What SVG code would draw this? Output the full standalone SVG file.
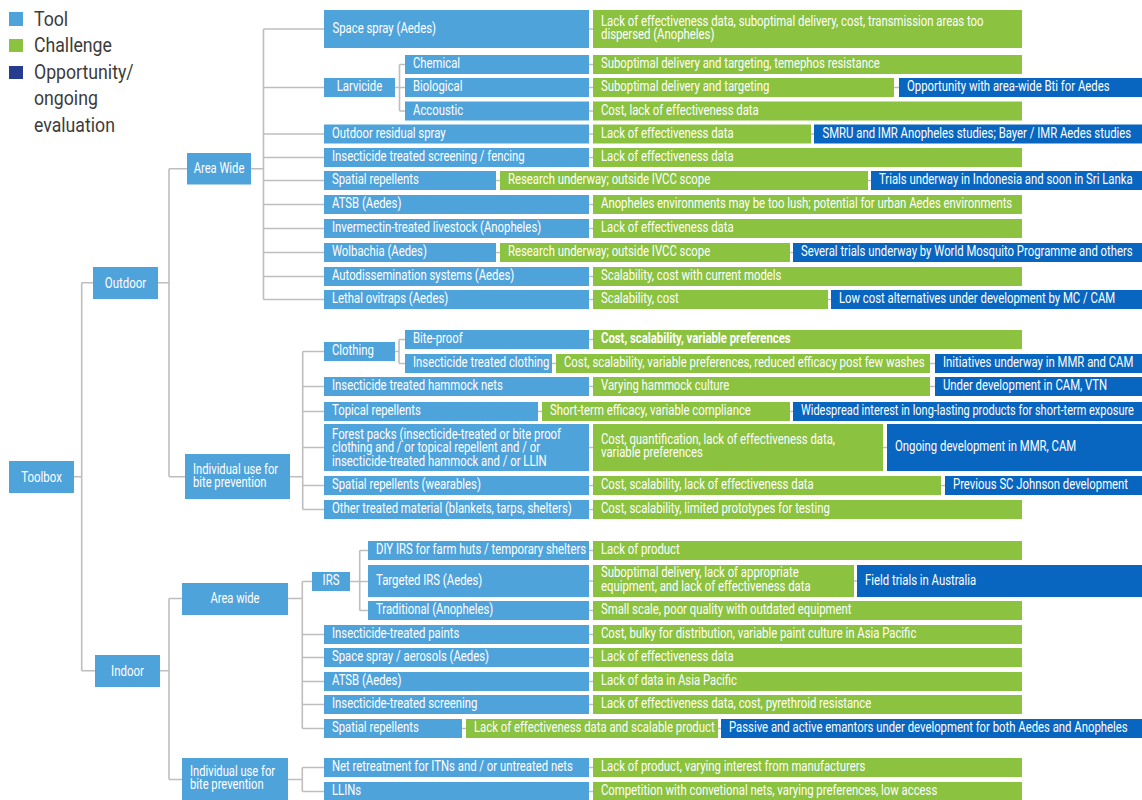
<svg xmlns="http://www.w3.org/2000/svg" width="1142" height="800" viewBox="0 0 1142 800">
<style>
.t{fill:#4FA3DB}
.c{fill:#8BC240}
.o{fill:#0866C0}
text{font-family:Roboto,"Liberation Sans",sans-serif;font-size:14px;fill:#FFFFFF}
.m{text-anchor:middle}
.n{font-size:15.5px}
.b{font-weight:bold}
.lg{font-size:20px;fill:#3C3C3C}
.conn{stroke:#BEBEBE;stroke-width:1.6;fill:none}
</style>
<rect width="1142" height="800" fill="#FFFFFF"/>
<g id="legend">
<rect x="9" y="12" width="14" height="14" class="t"/>
<rect x="9" y="39" width="14" height="13" class="c"/>
<rect x="9" y="66" width="14" height="13" fill="#253C8F"/>
<text class="lg" transform="scale(0.885,1)" x="38.42" y="26">Tool</text>
<text class="lg" transform="scale(0.885,1)" x="38.42" y="52.5">Challenge</text>
<text class="lg" transform="scale(0.885,1)" x="38.42" y="79">Opportunity/</text>
<text class="lg" transform="scale(0.885,1)" x="38.42" y="105.5">ongoing</text>
<text class="lg" transform="scale(0.885,1)" x="38.42" y="132">evaluation</text>
</g>
<g id="connectors" class="conn">
<path d="M74,476.7H81.7M81.7,282.7V670.7M81.7,282.7H93M81.7,670.7H95"/>
<path d="M158,282.7H169M169,168.7V476.7M169,168.7H187M169,476.7H185"/>
<path d="M251,168.7H263.5M263.5,29V299.5M263.5,29H324M263.5,87.5H324M263.5,134H324M263.5,157.5H324M263.5,180.5H324M263.5,204.5H324M263.5,228.5H324M263.5,252.5H324M263.5,276.5H324M263.5,299.5H324"/>
<path d="M395,87.5H405M399.5,64.5V111M399.5,64.5H405M399.5,111H405"/>
<path d="M290,476.7H302.7M302.7,351.5V509.5M302.7,351.5H324M302.7,386.5H324M302.7,411.5H324M302.7,447.5H324M302.7,485.5H324M302.7,509.5H324"/>
<path d="M395,351.5H399M399,339.5V363.5M399,339.5H405M399,363.5H405"/>
<path d="M160,670.7H169M169,598.5V779.5M169,598.5H182M169,779.5H182"/>
<path d="M288,598.5H302.3M302.3,581.5V728.5M302.3,581.5H312M302.3,634.5H324M302.3,657.5H324M302.3,681.5H324M302.3,704.5H324M302.3,728.5H324"/>
<path d="M350,581.5H368M359.7,550.5V610.5M359.7,550.5H368M359.7,610.5H368"/>
<path d="M288,779.5H302.3M302.3,767.5V791.5M302.3,767.5H324M302.3,791.5H324"/>
<path d="M589,29H593M589,64.5H593M589,87.5H593M894,87.5H899M589,111H593M589,134H593M811,134H814M589,157.5H593M496,180.5H500M868,180.5H871M589,204.5H593M589,228.5H593M496,252.5H500M790,252.5H793M589,276.5H593M589,299.5H593M828,299.5H831"/>
<path d="M589,339.5H593M552,363.5H556M930,363.5H935M589,386.5H593M930,386.5H935M538,411.5H542M790,411.5H793M589,447.5H593M883,447.5H887M589,485.5H593M941,485.5H945M589,509.5H593"/>
<path d="M589,550.5H593M589,581H593M854,581H857M589,610.5H593M589,634.5H593M589,657.5H593M589,681.5H593M589,704.5H593M462,728.5H466M718,728.5H721M589,767.5H593M589,791.5H593"/>
</g>
<g id="toolbox"><rect x="9" y="461" width="65" height="32" class="t"/><text class="m n" transform="scale(0.74,1)" x="56.08" y="482">Toolbox</text></g>
<g id="outdoor"><rect x="93" y="267" width="65" height="32" class="t"/><text class="m n" transform="scale(0.74,1)" x="169.6" y="288">Outdoor</text></g>
<g id="indoor"><rect x="95" y="655" width="65" height="32" class="t"/><text class="m n" transform="scale(0.74,1)" x="172.3" y="676">Indoor</text></g>
<g id="out-areawide"><rect x="187" y="153" width="64" height="31.5" class="t"/><text class="m" transform="scale(0.8,1)" x="273.75" y="173.5">Area Wide</text></g>
<g id="out-individual"><rect x="185" y="454" width="105" height="45" class="t"/><text transform="scale(0.8,1)" x="241.25" y="474">Individual use for</text><text transform="scale(0.8,1)" x="241.25" y="487">bite prevention</text></g>
<g id="in-areawide"><rect x="182" y="583" width="106" height="32" class="t"/><text class="m" transform="scale(0.8,1)" x="293.75" y="603.5">Area wide</text></g>
<g id="in-individual"><rect x="182" y="758" width="106" height="43" class="t"/><text transform="scale(0.8,1)" x="237.5" y="776">Individual use for</text><text transform="scale(0.8,1)" x="237.5" y="789.5">bite prevention</text></g>

<g id="space-spray"><rect x="324" y="10" width="265" height="38" class="t"/><text transform="scale(0.81,1)" x="410.49" y="33">Space spray (Aedes)</text></g>
<g id="space-spray-c"><rect x="593" y="10" width="429" height="38" class="c"/><text transform="scale(0.81,1)" x="741.98" y="26">Lack of effectiveness data, suboptimal delivery, cost, transmission areas too</text><text transform="scale(0.81,1)" x="741.98" y="39.5">dispersed (Anopheles)</text></g>
<g id="larvicide"><rect x="324" y="78" width="71" height="19" class="t"/><text class="m" transform="scale(0.81,1)" x="443.83" y="91.5">Larvicide</text></g>
<g id="chemical"><rect x="405" y="55" width="184" height="19" class="t"/><text transform="scale(0.81,1)" x="509.88" y="68.5">Chemical</text></g>
<g id="chemical-c"><rect x="593" y="55" width="429" height="19" class="c"/><text transform="scale(0.81,1)" x="741.98" y="68.5">Suboptimal delivery and targeting, temephos resistance</text></g>
<g id="biological"><rect x="405" y="78" width="184" height="19" class="t"/><text transform="scale(0.81,1)" x="509.88" y="91.5">Biological</text></g>
<g id="biological-c"><rect x="593" y="78" width="301" height="19" class="c"/><text transform="scale(0.81,1)" x="741.98" y="91.5">Suboptimal delivery and targeting</text></g>
<g id="biological-o"><rect x="899" y="78" width="243" height="19" class="o"/><text transform="scale(0.81,1)" x="1119.75" y="91.5">Opportunity with area-wide Bti for Aedes</text></g>
<g id="accoustic"><rect x="405" y="101.5" width="184" height="19" class="t"/><text transform="scale(0.81,1)" x="509.88" y="115">Accoustic</text></g>
<g id="accoustic-c"><rect x="593" y="101.5" width="429" height="19" class="c"/><text transform="scale(0.81,1)" x="741.98" y="115">Cost, lack of effectiveness data</text></g>
<g id="ors"><rect x="324" y="124.5" width="265" height="19" class="t"/><text transform="scale(0.81,1)" x="409.88" y="138">Outdoor residual spray</text></g>
<g id="ors-c"><rect x="593" y="124.5" width="218" height="19" class="c"/><text transform="scale(0.81,1)" x="741.98" y="138">Lack of effectiveness data</text></g>
<g id="ors-o"><rect x="814" y="124.5" width="328" height="19" class="o"/><text transform="scale(0.81,1)" x="1015.43" y="138">SMRU and IMR Anopheles studies; Bayer / IMR Aedes studies</text></g>
<g id="its"><rect x="324" y="148" width="265" height="19" class="t"/><text transform="scale(0.81,1)" x="409.88" y="161.5">Insecticide treated screening / fencing</text></g>
<g id="its-c"><rect x="593" y="148" width="429" height="19" class="c"/><text transform="scale(0.81,1)" x="741.98" y="161.5">Lack of effectiveness data</text></g>
<g id="sr-out"><rect x="324" y="171" width="172" height="19" class="t"/><text transform="scale(0.81,1)" x="409.88" y="184.5">Spatial repellents</text></g>
<g id="sr-out-c"><rect x="500" y="171" width="368" height="19" class="c"/><text transform="scale(0.81,1)" x="627.16" y="184.5">Research underway; outside IVCC scope</text></g>
<g id="sr-out-o"><rect x="871" y="171" width="271" height="19" class="o"/><text transform="scale(0.81,1)" x="1085.19" y="184.5">Trials underway in Indonesia and soon in Sri Lanka</text></g>
<g id="atsb-out"><rect x="324" y="195" width="265" height="19" class="t"/><text transform="scale(0.81,1)" x="409.88" y="208.5">ATSB (Aedes)</text></g>
<g id="atsb-out-c"><rect x="593" y="195" width="429" height="19" class="c"/><text transform="scale(0.81,1)" x="741.98" y="208.5">Anopheles environments may be too lush; potential for urban Aedes environments</text></g>
<g id="invermectin"><rect x="324" y="219" width="265" height="19" class="t"/><text transform="scale(0.81,1)" x="409.88" y="232.5">Invermectin-treated livestock (Anopheles)</text></g>
<g id="invermectin-c"><rect x="593" y="219" width="429" height="19" class="c"/><text transform="scale(0.81,1)" x="741.98" y="232.5">Lack of effectiveness data</text></g>
<g id="wolbachia"><rect x="324" y="243" width="172" height="19" class="t"/><text transform="scale(0.81,1)" x="409.88" y="256.5">Wolbachia (Aedes)</text></g>
<g id="wolbachia-c"><rect x="500" y="243" width="290" height="19" class="c"/><text transform="scale(0.81,1)" x="627.16" y="256.5">Research underway; outside IVCC scope</text></g>
<g id="wolbachia-o"><rect x="793" y="243" width="349" height="19" class="o"/><text transform="scale(0.81,1)" x="988.89" y="256.5">Several trials underway by World Mosquito Programme and others</text></g>
<g id="autodiss"><rect x="324" y="267" width="265" height="19" class="t"/><text transform="scale(0.81,1)" x="409.88" y="280.5">Autodissemination systems (Aedes)</text></g>
<g id="autodiss-c"><rect x="593" y="267" width="429" height="19" class="c"/><text transform="scale(0.81,1)" x="741.98" y="280.5">Scalability, cost with current models</text></g>
<g id="ovitraps"><rect x="324" y="290" width="265" height="19" class="t"/><text transform="scale(0.81,1)" x="409.88" y="303.5">Lethal ovitraps (Aedes)</text></g>
<g id="ovitraps-c"><rect x="593" y="290" width="235" height="19" class="c"/><text transform="scale(0.81,1)" x="741.98" y="303.5">Scalability, cost</text></g>
<g id="ovitraps-o"><rect x="831" y="290" width="311" height="19" class="o"/><text transform="scale(0.81,1)" x="1035.8" y="303.5">Low cost alternatives under development by MC / CAM</text></g>

<g id="clothing"><rect x="324" y="342" width="71" height="19" class="t"/><text transform="scale(0.81,1)" x="409.88" y="355.5">Clothing</text></g>
<g id="biteproof"><rect x="405" y="330" width="184" height="19" class="t"/><text transform="scale(0.81,1)" x="509.88" y="343.5">Bite-proof</text></g>
<g id="biteproof-c"><rect x="593" y="330" width="429" height="19" class="c"/><text class="b" transform="scale(0.81,1)" x="741.98" y="343.5">Cost, scalability, variable preferences</text></g>
<g id="itc"><rect x="405" y="354" width="147" height="19" class="t"/><text transform="scale(0.81,1)" x="509.88" y="367.5">Insecticide treated clothing</text></g>
<g id="itc-c"><rect x="556" y="354" width="374" height="19" class="c"/><text transform="scale(0.81,1)" x="696.3" y="367.5">Cost, scalability, variable preferences, reduced efficacy post few washes</text></g>
<g id="itc-o"><rect x="935" y="354" width="207" height="19" class="o"/><text transform="scale(0.81,1)" x="1164.2" y="367.5">Initiatives underway in MMR and CAM</text></g>
<g id="hammock"><rect x="324" y="377" width="265" height="19" class="t"/><text transform="scale(0.81,1)" x="409.88" y="390.5">Insecticide treated hammock nets</text></g>
<g id="hammock-c"><rect x="593" y="377" width="337" height="19" class="c"/><text transform="scale(0.81,1)" x="741.98" y="390.5">Varying hammock culture</text></g>
<g id="hammock-o"><rect x="935" y="377" width="207" height="19" class="o"/><text transform="scale(0.81,1)" x="1164.2" y="390.5">Under development in CAM, VTN</text></g>
<g id="topical"><rect x="324" y="402" width="214" height="19" class="t"/><text transform="scale(0.81,1)" x="409.88" y="415.5">Topical repellents</text></g>
<g id="topical-c"><rect x="542" y="402" width="248" height="19" class="c"/><text transform="scale(0.81,1)" x="679.01" y="415.5">Short-term efficacy, variable compliance</text></g>
<g id="topical-o"><rect x="793" y="402" width="349" height="19" class="o"/><text transform="scale(0.785,1)" x="1020.38" y="415.5">Widespread interest in long-lasting products for short-term exposure</text></g>
<g id="forest"><rect x="324" y="424" width="265" height="47" class="t"/><text transform="scale(0.81,1)" x="409.88" y="439">Forest packs (insecticide-treated or bite proof</text><text transform="scale(0.81,1)" x="409.88" y="452.5">clothing and / or topical repellent and / or</text><text transform="scale(0.81,1)" x="409.88" y="466">insecticide-treated hammock and / or LLIN</text></g>
<g id="forest-c"><rect x="593" y="424" width="290" height="47" class="c"/><text transform="scale(0.81,1)" x="741.98" y="444">Cost, quantification, lack of effectiveness data,</text><text transform="scale(0.81,1)" x="741.98" y="457.5">variable preferences</text></g>
<g id="forest-o"><rect x="887" y="424" width="255" height="47" class="o"/><text transform="scale(0.81,1)" x="1104.94" y="451.5">Ongoing development in MMR, CAM</text></g>
<g id="wearables"><rect x="324" y="476" width="265" height="19" class="t"/><text transform="scale(0.81,1)" x="409.88" y="489.5">Spatial repellents (wearables)</text></g>
<g id="wearables-c"><rect x="593" y="476" width="348" height="19" class="c"/><text transform="scale(0.81,1)" x="741.98" y="489.5">Cost, scalability, lack of effectiveness data</text></g>
<g id="wearables-o"><rect x="945" y="476" width="197" height="19" class="o"/><text transform="scale(0.81,1)" x="1176.54" y="489.5">Previous SC Johnson development</text></g>
<g id="other"><rect x="324" y="500" width="265" height="19" class="t"/><text transform="scale(0.81,1)" x="409.88" y="513.5">Other treated material (blankets, tarps, shelters)</text></g>
<g id="other-c"><rect x="593" y="500" width="429" height="19" class="c"/><text transform="scale(0.81,1)" x="741.98" y="513.5">Cost, scalability, limited prototypes for testing</text></g>

<g id="irs"><rect x="312" y="572" width="38" height="19" class="t"/><text class="m" transform="scale(0.81,1)" x="408.64" y="585.5">IRS</text></g>
<g id="diy"><rect x="368" y="541" width="221" height="19" class="t"/><text transform="scale(0.81,1)" x="464.2" y="554.5">DIY IRS for farm huts / temporary shelters</text></g>
<g id="diy-c"><rect x="593" y="541" width="429" height="19" class="c"/><text transform="scale(0.81,1)" x="741.98" y="554.5">Lack of product</text></g>
<g id="targeted"><rect x="368" y="565" width="221" height="32" class="t"/><text transform="scale(0.81,1)" x="464.2" y="585.5">Targeted IRS (Aedes)</text></g>
<g id="targeted-c"><rect x="593" y="565" width="261" height="32" class="c"/><text transform="scale(0.81,1)" x="741.98" y="577.5">Suboptimal delivery, lack of appropriate</text><text transform="scale(0.81,1)" x="741.98" y="591">equipment, and lack of effectiveness data</text></g>
<g id="targeted-o"><rect x="857" y="565" width="285" height="32" class="o"/><text transform="scale(0.81,1)" x="1067.9" y="585.5">Field trials in Australia</text></g>
<g id="traditional"><rect x="368" y="601" width="221" height="19" class="t"/><text transform="scale(0.81,1)" x="464.2" y="614.5">Traditional (Anopheles)</text></g>
<g id="traditional-c"><rect x="593" y="601" width="429" height="19" class="c"/><text transform="scale(0.81,1)" x="741.98" y="614.5">Small scale, poor quality with outdated equipment</text></g>
<g id="paints"><rect x="324" y="625" width="265" height="19" class="t"/><text transform="scale(0.81,1)" x="409.88" y="638.5">Insecticide-treated paints</text></g>
<g id="paints-c"><rect x="593" y="625" width="429" height="19" class="c"/><text transform="scale(0.81,1)" x="741.98" y="638.5">Cost, bulky for distribution, variable paint culture in Asia Pacific</text></g>
<g id="aerosols"><rect x="324" y="648" width="265" height="19" class="t"/><text transform="scale(0.81,1)" x="409.88" y="661.5">Space spray / aerosols (Aedes)</text></g>
<g id="aerosols-c"><rect x="593" y="648" width="429" height="19" class="c"/><text transform="scale(0.81,1)" x="741.98" y="661.5">Lack of effectiveness data</text></g>
<g id="atsb-in"><rect x="324" y="672" width="265" height="19" class="t"/><text transform="scale(0.81,1)" x="409.88" y="685.5">ATSB (Aedes)</text></g>
<g id="atsb-in-c"><rect x="593" y="672" width="429" height="19" class="c"/><text transform="scale(0.81,1)" x="741.98" y="685.5">Lack of data in Asia Pacific</text></g>
<g id="screening"><rect x="324" y="695" width="265" height="19" class="t"/><text transform="scale(0.81,1)" x="409.88" y="708.5">Insecticide-treated screening</text></g>
<g id="screening-c"><rect x="593" y="695" width="429" height="19" class="c"/><text transform="scale(0.81,1)" x="741.98" y="708.5">Lack of effectiveness data, cost, pyrethroid resistance</text></g>
<g id="sr-in"><rect x="324" y="719" width="138" height="19" class="t"/><text transform="scale(0.81,1)" x="409.88" y="732.5">Spatial repellents</text></g>
<g id="sr-in-c"><rect x="466" y="719" width="252" height="19" class="c"/><text transform="scale(0.81,1)" x="585.19" y="732.5">Lack of effectiveness data and scalable product</text></g>
<g id="sr-in-o"><rect x="721" y="719" width="421" height="19" class="o"/><text transform="scale(0.81,1)" x="900" y="732.5">Passive and active emantors under development for both Aedes and Anopheles</text></g>
<g id="net"><rect x="324" y="758" width="265" height="19" class="t"/><text transform="scale(0.81,1)" x="409.88" y="771.5">Net retreatment for ITNs and / or untreated nets</text></g>
<g id="net-c"><rect x="593" y="758" width="429" height="19" class="c"/><text transform="scale(0.81,1)" x="741.98" y="771.5">Lack of product, varying interest from manufacturers</text></g>
<g id="llin"><rect x="324" y="782" width="265" height="19" class="t"/><text transform="scale(0.81,1)" x="409.88" y="795.5">LLINs</text></g>
<g id="llin-c"><rect x="593" y="782" width="429" height="19" class="c"/><text transform="scale(0.81,1)" x="741.98" y="795.5">Competition with convetional nets, varying preferences, low access</text></g>
</svg>
